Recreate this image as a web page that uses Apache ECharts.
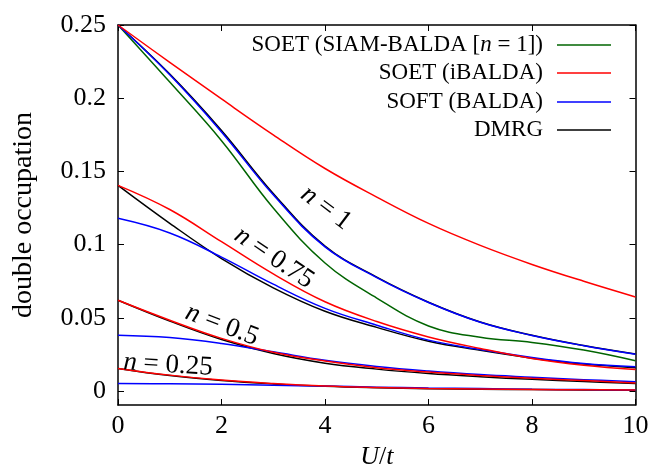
<!DOCTYPE html>
<html>
<head>
<meta charset="utf-8">
<script src="https://cdn.jsdelivr.net/npm/echarts@6/dist/echarts.min.js"></script>
<style>
html,body{margin:0;padding:0;background:#fff;}
#main{width:651px;height:466px;}
</style>
</head>
<body>
<div id="main"></div>
<script>
// U/t grid shared by all curves
var U = [0, 1, 2, 3, 4, 5, 6, 7, 8, 9, 10];

// n = 1
var siam_n1   = [0.25, 0.211, 0.171, 0.125, 0.0875, 0.0635, 0.0445, 0.0368, 0.0332, 0.028, 0.0207];
var ibalda_n1 = [0.25, 0.2245, 0.1995, 0.175, 0.152, 0.1325, 0.1145, 0.0995, 0.0865, 0.075, 0.0643];
var balda_n1  = [0.25, 0.216, 0.177, 0.134, 0.0985, 0.0775, 0.0605, 0.047, 0.038, 0.031, 0.0252];
var dmrg_n1   = [0.25, 0.2165, 0.178, 0.135, 0.099, 0.0778, 0.0607, 0.0472, 0.0381, 0.0311, 0.0253];
// n = 0.75
var ibalda_n075 = [0.1405, 0.124, 0.102, 0.080, 0.061, 0.0475, 0.037, 0.0291, 0.0223, 0.0177, 0.0148];
var balda_n075  = [0.118, 0.108, 0.0915, 0.073, 0.0565, 0.045, 0.0348, 0.0284, 0.023, 0.0189, 0.0166];
var dmrg_n075   = [0.1405, 0.1146, 0.0905, 0.0705, 0.0545, 0.0435, 0.034, 0.0278, 0.0225, 0.0185, 0.016];
// n = 0.5
var ibalda_n05 = [0.062, 0.0484, 0.036, 0.0265, 0.0205, 0.016, 0.013, 0.0107, 0.0088, 0.0072, 0.0056];
var balda_n05  = [0.0382, 0.0366, 0.0325, 0.0268, 0.021, 0.0168, 0.0137, 0.0113, 0.0095, 0.0078, 0.0064];
var dmrg_n05   = [0.062, 0.0478, 0.0352, 0.0256, 0.019, 0.015, 0.012, 0.0098, 0.008, 0.0065, 0.0052];
// n = 0.25
var ibalda_n025 = [0.0155, 0.0109, 0.0075, 0.0052, 0.0035, 0.0025, 0.0018, 0.0014, 0.0011, 0.0009, 0.0007];
var balda_n025  = [0.0052, 0.005, 0.0046, 0.004, 0.0034, 0.0027, 0.0021, 0.0017, 0.0013, 0.001, 0.0008];
var dmrg_n025   = [0.0155, 0.0106, 0.0072, 0.0049, 0.0033, 0.0023, 0.0016, 0.0012, 0.001, 0.0008, 0.0006];

var xTicks = [0, 2, 4, 6, 8, 10];
var yTicks = [0, 0.05, 0.1, 0.15, 0.2, 0.25];

var names = ['SOET (SIAM-BALDA [n = 1])', 'SOET (iBALDA)', 'SOFT (BALDA)', 'DMRG'];
var colors = ['#006400', '#ff0000', '#0000ff', '#000000'];

var FONT = 'Liberation Serif';

function pts(arr){
	return U.map(function(u, i){ return [u, arr[i]]; });
}
function line(k, arr){
	return {
		name: names[k], type: 'line', data: pts(arr),
		symbol: 'none', smooth: 0.4,
		lineStyle: {color: colors[k], width: 1.5}, itemStyle: {color: colors[k]},
		emphasis: {disabled: true}, animation: false
	};
}

var series = [
	line(3, dmrg_n1), line(3, dmrg_n075), line(3, dmrg_n05), line(3, dmrg_n025),
	line(0, siam_n1),
	line(2, balda_n1), line(2, balda_n075), line(2, balda_n05), line(2, balda_n025),
	line(1, ibalda_n1), line(1, ibalda_n075), line(1, ibalda_n05), line(1, ibalda_n025)
];

// one legend per entry so the icons line up on the right
var legendTops = [32, 60, 89, 117];
var legends = names.map(function(nm, k){
	return {
		data: [nm], right: 40, top: legendTops[k], padding: 0,
		orient: 'vertical', align: 'right',
		icon: 'rect', itemWidth: 54, itemHeight: 1.5,
		selectedMode: false,
		formatter: function(name){ return name.replace('n =', '{i|n} ='); },
		textStyle: {
			fontFamily: FONT, fontSize: 23, color: '#000', lineHeight: 26, padding: [0, 9, 0, 0],
			rich: {i: {fontFamily: FONT, fontSize: 23, fontStyle: 'italic', color: '#000'}}
		}
	};
});

function note(x, y, deg, txt){
	return {
		type: 'text', x: x, y: y, rotation: -deg * Math.PI / 180, z: 100,
		style: {
			text: txt, fontFamily: FONT, fontSize: 27, fill: '#000',
			align: 'center', verticalAlign: 'middle',
			rich: {i: {fontFamily: FONT, fontSize: 27, fontStyle: 'italic'}}
		}
	};
}

var axisLine = {show: true, onZero: false, lineStyle: {color: '#000', width: 1.5}};
var tick = {show: true, inside: true, length: 6, lineStyle: {color: '#000', width: 1}};

var chart = echarts.init(document.getElementById('main'));
chart.setOption({
	animation: false,
	backgroundColor: '#fff',
	grid: {left: 118, right: 15.5, top: 25, bottom: 61, outerBoundsMode: 'none', containLabel: false},
	legend: legends,
	xAxis: [{
		type: 'value', min: 0, max: 10, interval: 2,
		axisLine: axisLine, axisTick: tick, splitLine: {show: false},
		axisLabel: {fontFamily: FONT, fontSize: 26, color: '#000', margin: 8},
		name: '{i|U}/{i|t}', nameLocation: 'middle', nameGap: 30,
		nameTextStyle: {fontFamily: FONT, fontSize: 26, color: '#000',
			rich: {i: {fontFamily: FONT, fontSize: 26, fontStyle: 'italic'}}}
	}, {
		type: 'value', position: 'top', min: 0, max: 10, interval: 2,
		axisLine: axisLine, axisTick: tick, axisLabel: {show: false}, splitLine: {show: false}
	}],
	yAxis: [{
		type: 'value', min: -0.0095, max: 0.25,
		axisLine: axisLine,
		axisTick: {show: true, inside: true, length: 6, lineStyle: {color: '#000', width: 1}, customValues: yTicks},
		axisLabel: {fontFamily: FONT, fontSize: 26, color: '#000', margin: 12, customValues: yTicks},
		splitLine: {show: false},
		name: 'double occupation', nameLocation: 'middle', nameGap: 80,
		nameTextStyle: {fontFamily: FONT, fontSize: 28, color: '#000'}
	}, {
		type: 'value', position: 'right', min: -0.0095, max: 0.25,
		axisLine: axisLine,
		axisTick: {show: true, inside: true, length: 6, lineStyle: {color: '#000', width: 1}, customValues: yTicks},
		axisLabel: {show: false}, splitLine: {show: false}
	}],
	graphic: [
		note(326, 208, 37, '{i|n} = 1'),
		note(274, 258, 34, '{i|n} = 0.75'),
		note(222, 325, 21, '{i|n} = 0.5'),
		note(168, 365, 3.5, '{i|n} = 0.25')
	],
	series: series
});
</script>
</body>
</html>
